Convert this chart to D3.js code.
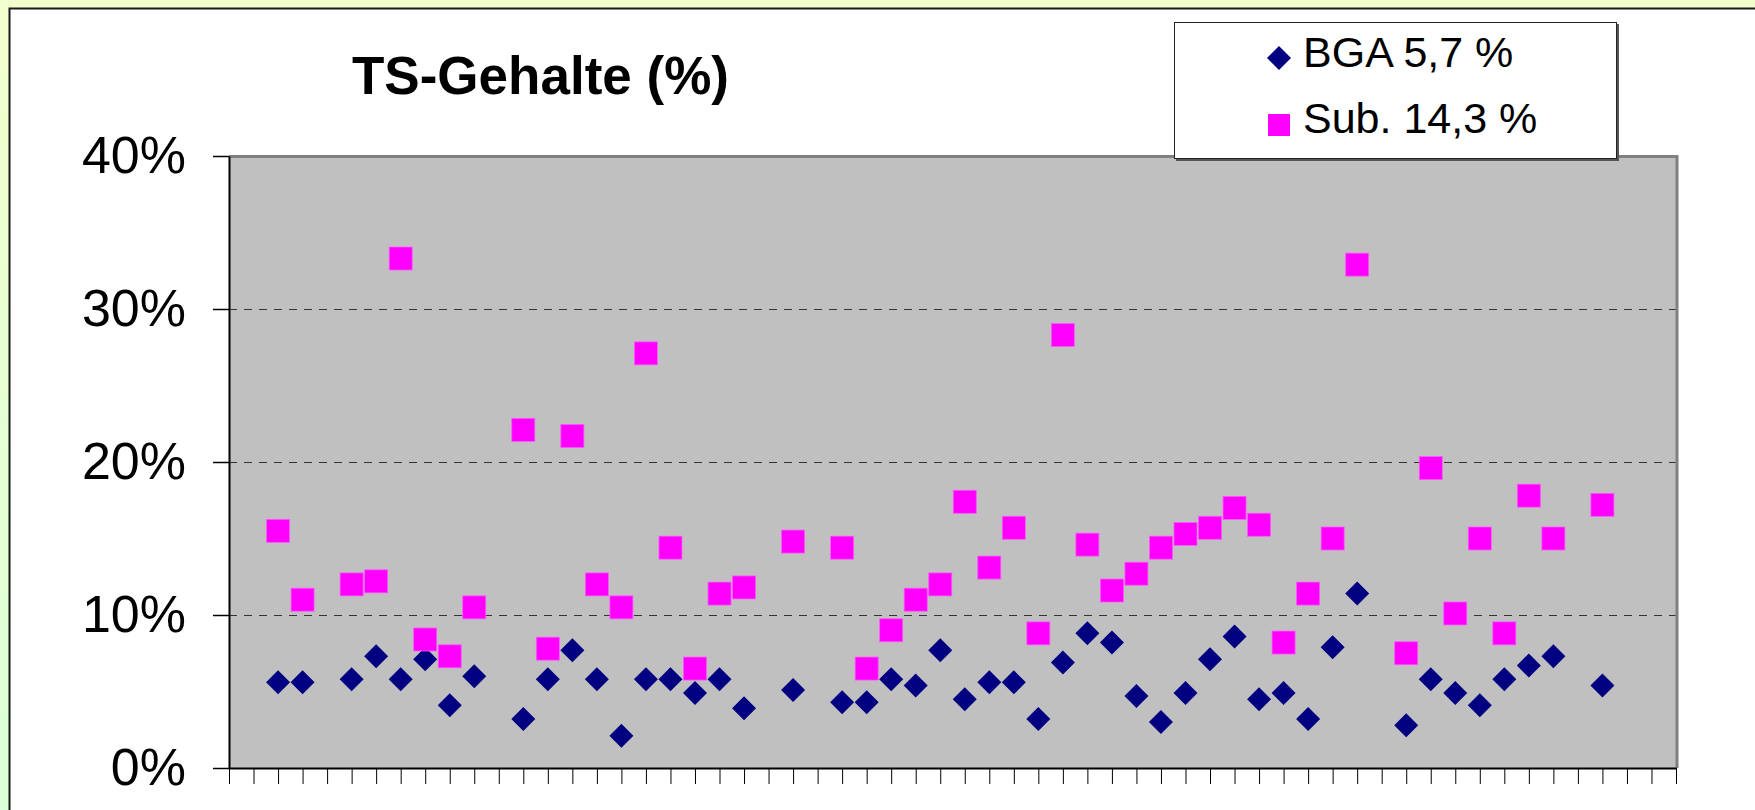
<!DOCTYPE html>
<html>
<head>
<meta charset="utf-8">
<script src="https://cdn.jsdelivr.net/npm/d3@7"></script>
<style>
  body { margin: 0; overflow: hidden; background: #fff; }
  text { font-family: Arial, "Liberation Sans", sans-serif; }
</style>
</head>
<body>
<svg id="chart" width="1755" height="810"></svg>
<script>
//
// TS-GEHALTE SCATTER
//

// slot on the category axis for each sample (axis has 59 slots, no labels)
var nSlots = 59;
var slot = [2, 3, 5, 6, 7, 8, 9, 10, 12, 13, 14, 15, 16, 17, 18, 19, 20, 21, 23,
            25, 26, 27, 28, 29, 30, 31, 32, 33, 34, 35, 36, 37, 38, 39, 40, 41, 42,
            43, 44, 45, 46, 48, 49, 50, 51, 52, 53, 54, 56];

// dry matter (%) biogas plant
var bga = [5.6, 5.6, 5.8, 7.3, 5.8, 7.1, 4.1, 6.0, 3.2, 5.8, 7.7, 5.8, 2.1, 5.8, 5.8, 4.9, 5.8, 3.9, 5.1,
           4.3, 4.3, 5.8, 5.4, 7.7, 4.5, 5.6, 5.6, 3.2, 6.9, 8.8, 8.2, 4.7, 3.0, 4.9, 7.1, 8.6, 4.5,
           4.9, 3.2, 7.9, 11.4, 2.8, 5.8, 4.9, 4.1, 5.8, 6.7, 7.3, 5.4];

// dry matter (%) substrate
var sub = [15.5, 11.0, 12.0, 12.2, 33.3, 8.4, 7.3, 10.5, 22.1, 7.8, 21.7, 12.0, 10.5, 27.1, 14.4, 6.5, 11.4, 11.8, 14.8,
           14.4, 6.5, 9.0, 11.0, 12.0, 17.4, 13.1, 15.7, 8.8, 28.3, 14.6, 11.6, 12.7, 14.4, 15.3, 15.7, 17.0, 15.9,
           8.2, 11.4, 15.0, 32.9, 7.5, 19.6, 10.1, 15.0, 8.8, 17.8, 15.0, 17.2];

var yTicks = [0, 10, 20, 30, 40],
    gridTicks = [10, 20, 30];

var title = "TS-Gehalte (%)",
    legendItems = ["BGA 5,7 %", "Sub. 14,3 %"];

var svg = d3.select("#chart"),
    W = +svg.attr("width"),
    H = +svg.attr("height");

var plot = {left: 229, top: 156, right: 1676, bottom: 768};

var x = d3.scaleLinear().domain([0, nSlots]).range([plot.left, plot.right]),
    y = d3.scaleLinear().domain([0, 40]).range([plot.bottom, plot.top]);

// background + frame
var defs = svg.append("defs");
var grad = defs.append("linearGradient").attr("id", "bg").attr("x1", 0).attr("y1", 0).attr("x2", 0).attr("y2", 1);
grad.append("stop").attr("offset", "0%").attr("stop-color", "#f2ffcc");
grad.append("stop").attr("offset", "100%").attr("stop-color", "#dbffd8");

svg.append("rect").attr("width", W).attr("height", H).attr("fill", "url(#bg)");
svg.append("rect")
    .attr("x", 9.5).attr("y", 8.5)
    .attr("width", W + 20).attr("height", H + 20)
    .attr("fill", "#fff")
    .attr("stroke", "#1a1a1a")
    .attr("stroke-width", 2);

// plot area
svg.append("rect")
    .attr("x", plot.left).attr("y", plot.top)
    .attr("width", plot.right - plot.left).attr("height", plot.bottom - plot.top)
    .attr("fill", "#c0c0c0");

// gridlines
svg.append("g").selectAll("line")
    .data(gridTicks)
  .enter().append("line")
    .attr("x1", plot.left).attr("x2", plot.right)
    .attr("y1", function(d) { return Math.round(y(d)) + 0.5; })
    .attr("y2", function(d) { return Math.round(y(d)) + 0.5; })
    .attr("stroke", "#333")
    .attr("stroke-width", 1)
    .attr("stroke-dasharray", "8,7");

// top / right border of plot area
svg.append("path")
    .attr("d", "M" + plot.left + "," + (plot.top + 0.5) + "H" + (plot.right + 1) + "V" + plot.bottom)
    .attr("fill", "none")
    .attr("stroke", "#808080")
    .attr("stroke-width", 3);

// y axis
var yAxis = svg.append("g")
    .attr("transform", "translate(" + plot.left + ",0)")
    .call(d3.axisLeft(y).tickValues(yTicks).tickFormat(function(d) { return d + "%"; })
      .tickSize(16).tickSizeOuter(0).tickPadding(27));
yAxis.select(".domain").attr("stroke", "#000").attr("stroke-width", 2);
yAxis.selectAll(".tick line").attr("stroke", "#000").attr("stroke-width", 1.5);
yAxis.selectAll(".tick text")
    .attr("font-size", 52)
    .attr("font-family", "Arial, 'Liberation Sans', sans-serif")
    .attr("fill", "#000");

// x axis (unlabelled category ticks)
var xAxis = svg.append("g")
    .attr("transform", "translate(0," + plot.bottom + ")")
    .call(d3.axisBottom(x).tickValues(d3.range(0, nSlots + 1)).tickFormat("")
      .tickSize(16).tickSizeOuter(0));
xAxis.select(".domain").attr("stroke", "#000").attr("stroke-width", 2);
xAxis.selectAll(".tick line").attr("stroke", "#000").attr("stroke-width", 1);

// markers: BGA (diamonds), then Sub (squares) on top
var diamond = "M0,-12L12,0L0,12L-12,0Z";

svg.append("g").selectAll("path")
    .data(bga)
  .enter().append("path")
    .attr("d", diamond)
    .attr("transform", function(d, i) { return "translate(" + x(slot[i]) + "," + y(d) + ")"; })
    .attr("fill", "#000080");

svg.append("g").selectAll("rect")
    .data(sub)
  .enter().append("rect")
    .attr("x", function(d, i) { return x(slot[i]) - 11.5; })
    .attr("y", function(d) { return y(d) - 11.5; })
    .attr("width", 23).attr("height", 23)
    .attr("fill", "#ff00ff")
    .attr("stroke", "#ff55ff")
    .attr("stroke-width", 0.8);

// title
svg.append("text")
    .attr("x", 352).attr("y", 94)
    .attr("font-size", 53)
    .attr("font-weight", "bold")
    .attr("fill", "#000")
    .text(title);

// legend
var lg = svg.append("g").attr("transform", "translate(1174,22)");
lg.append("rect").attr("x", 2).attr("y", 2).attr("width", 443).attr("height", 137).attr("fill", "#555");
lg.append("rect").attr("x", 0.5).attr("y", 0.5).attr("width", 442).attr("height", 136)
    .attr("fill", "#fff").attr("stroke", "#222").attr("stroke-width", 1);

lg.append("path").attr("d", diamond).attr("transform", "translate(105,36)").attr("fill", "#000080");
lg.append("rect").attr("x", 94).attr("y", 92).attr("width", 22).attr("height", 22).attr("fill", "#ff00ff");

lg.selectAll("text.item")
    .data(legendItems)
  .enter().append("text")
    .attr("class", "item")
    .attr("x", 129)
    .attr("y", function(d, i) { return 45 + i * 66; })
    .attr("font-size", 43)
    .attr("fill", "#000")
    .text(function(d) { return d; });
</script>
</body>
</html>
